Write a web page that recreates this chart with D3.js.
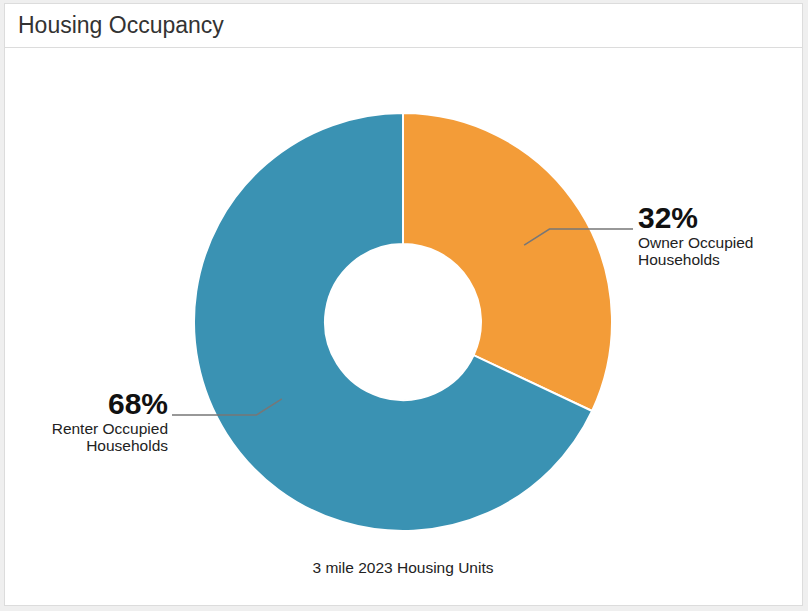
<!DOCTYPE html>
<html>
<head>
<meta charset="utf-8">
<script src="https://cdn.jsdelivr.net/npm/d3@7"></script>
<style>
  body { margin: 0; background: #efefef; font-family: "Liberation Sans", Arial, sans-serif; }
</style>
</head>
<body>
<div class="housing"></div>
<script>
var categories = ["Owner Occupied Households", "Renter Occupied Households"],
  labelLines = [["Owner Occupied", "Households"], ["Renter Occupied", "Households"]],
  shares = [32, 68],
  colors = ["#f39c38", "#3a92b3"],
  title = "Housing Occupancy",
  caption = "3 mile 2023 Housing Units";

document.addEventListener("DOMContentLoaded", draw)

function draw() {
  var width = 808,
    height = 611;

  var svg = d3.select(".housing").append("svg")
    .attr("width", width)
    .attr("height", height)

  // panel
  svg.append("rect")
    .attr("x", 4.5).attr("y", 3.5)
    .attr("width", 798).attr("height", 602)
    .attr("fill", "#fff")
    .attr("stroke", "#dcdcdc")
  svg.append("line")
    .attr("x1", 5).attr("x2", 802)
    .attr("y1", 47.5).attr("y2", 47.5)
    .attr("stroke", "#dcdcdc")
  svg.append("text")
    .attr("x", 18).attr("y", 33)
    .attr("font-size", 23)
    .attr("fill", "#333")
    .text(title)

  var cx = 403, cy = 322,
    outer = 209, inner = 78;

  var data = categories.map((c, i) => ({ name: c, value: shares[i], lines: labelLines[i], color: colors[i] }))

  var pie = d3.pie().sort(null).value(d => d.value),
    arc = d3.arc().innerRadius(inner).outerRadius(outer),
    mid = d3.arc().innerRadius((inner + outer) / 2).outerRadius((inner + outer) / 2),
    elbow = d3.arc().innerRadius(outer * 0.83).outerRadius(outer * 0.83);

  var g = svg.append("g").attr("transform", `translate(${cx},${cy})`)
  var arcs = pie(data)

  g.selectAll("path.slice")
    .data(arcs)
    .enter().append("path")
    .attr("class", "slice")
    .attr("d", arc)
    .attr("fill", d => d.data.color)
    .attr("stroke", "#fff")
    .attr("stroke-width", 2)

  // leader lines and labels
  arcs.forEach(function (d) {
    var p0 = mid.centroid(d),
      p1 = elbow.centroid(d),
      right = p0[0] > 0,
      endX = right ? 230 : -231,
      textX = right ? 235 : -235,
      anchor = right ? "start" : "end";
    g.append("polyline")
      .attr("points", [p0, p1, [endX, p1[1]]].map(p => p.join(",")).join(" "))
      .attr("fill", "none")
      .attr("stroke", "#777")
      .attr("stroke-width", 1.5)
    g.append("text")
      .attr("x", textX).attr("y", p1[1] - 1)
      .attr("text-anchor", anchor)
      .attr("font-size", 30)
      .attr("font-weight", "bold")
      .attr("fill", "#111")
      .text(d.data.value + "%")
    d.data.lines.forEach(function (t, j) {
      g.append("text")
        .attr("x", textX).attr("y", p1[1] + 19 + j * 17)
        .attr("text-anchor", anchor)
        .attr("font-size", 15.5)
        .attr("fill", "#222")
        .text(t)
    })
  })

  svg.append("text")
    .attr("x", cx).attr("y", 573)
    .attr("text-anchor", "middle")
    .attr("font-size", 15.5)
    .attr("fill", "#222")
    .text(caption)
}
</script>
</body>
</html>
